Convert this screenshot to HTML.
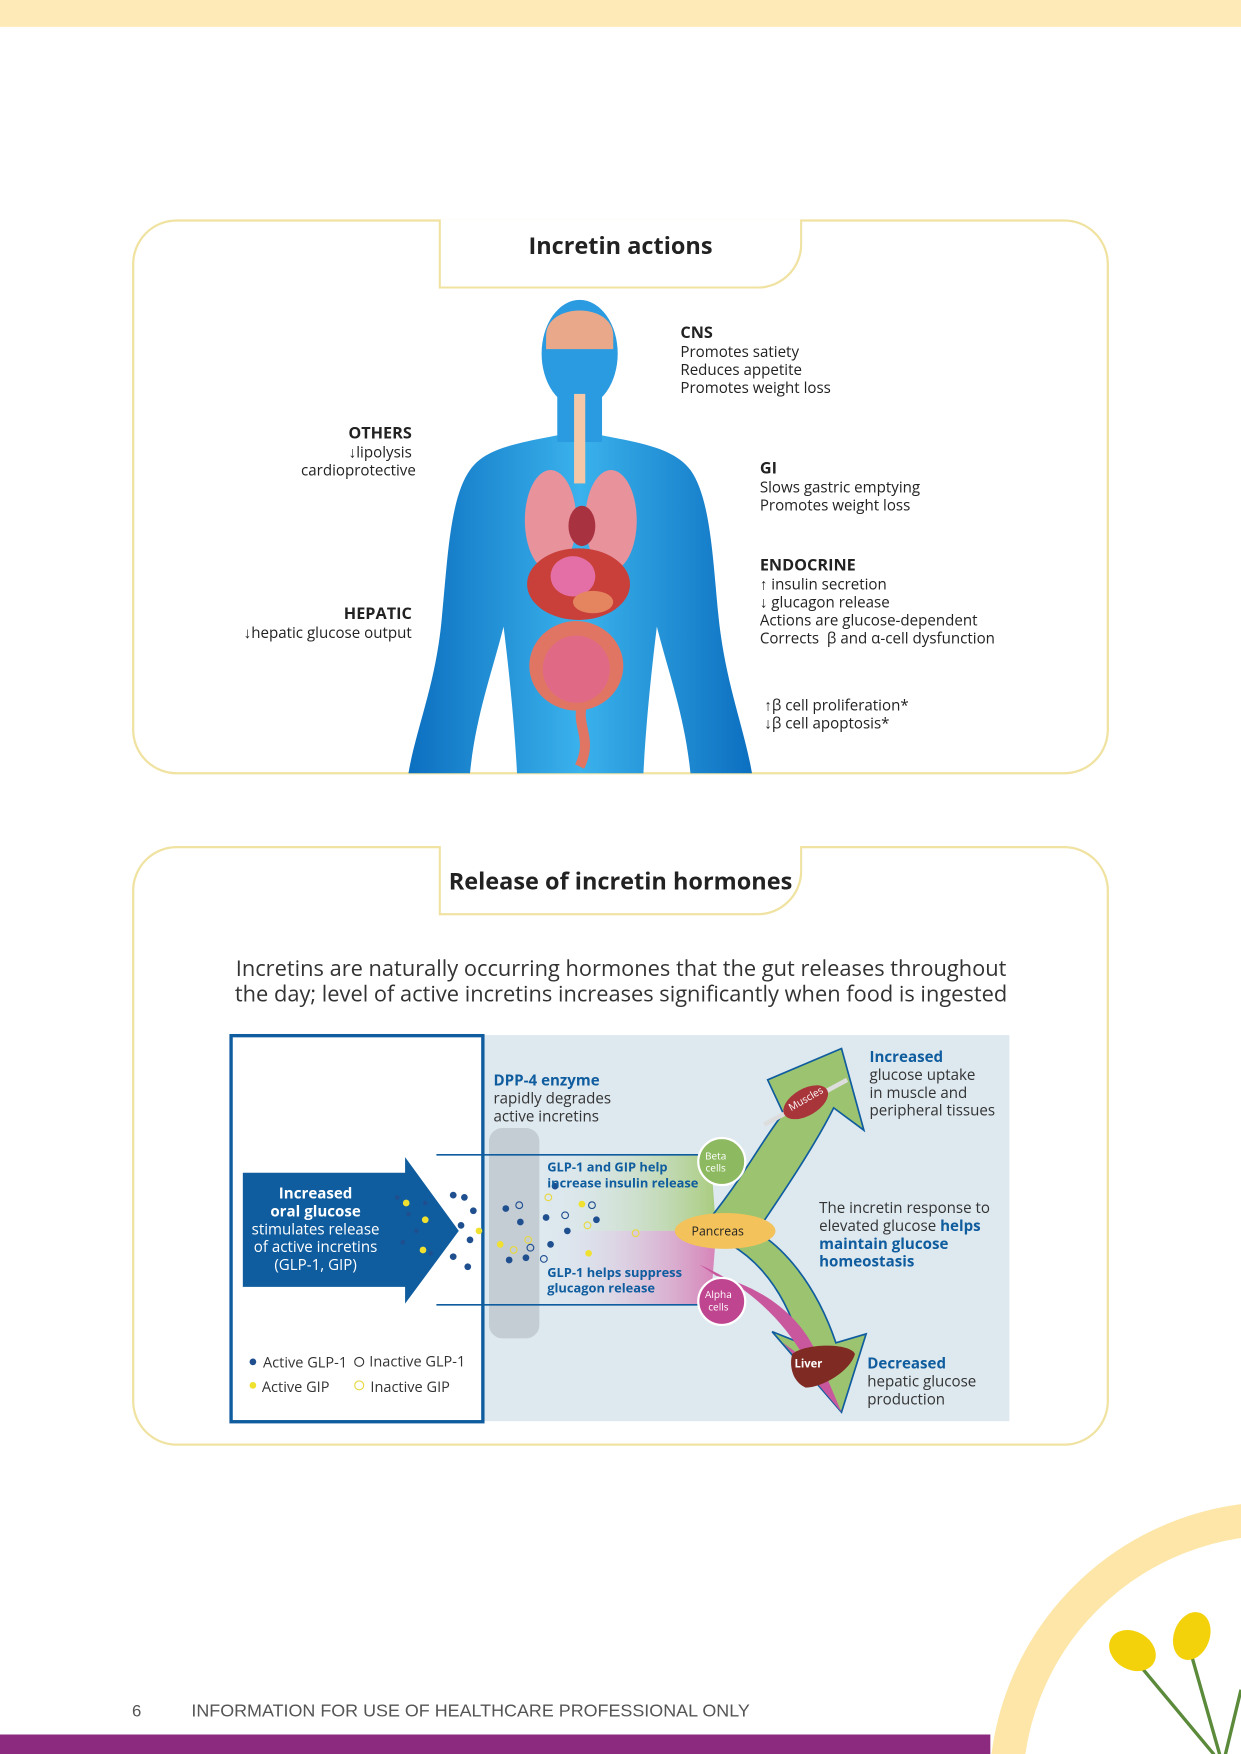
<!DOCTYPE html>
<html><head><meta charset="utf-8"><style>
html,body{margin:0;padding:0;background:#fff;overflow:hidden;width:1241px;height:1754px;}
#wrap{position:relative;width:1241px;height:1754px;overflow:hidden;}
#pg{position:absolute;left:0;top:0;width:1109px;height:1568px;transform:scale(1.11903);transform-origin:0 0;font-family:"Open Sans","Liberation Sans",sans-serif;color:#222;}
.a{position:absolute;white-space:nowrap;}
.box{position:absolute;border:2px solid #f0e2a0;border-radius:40px;box-sizing:border-box;}
.tab{position:absolute;border:2px solid #f0e2a0;border-top:none;border-bottom-right-radius:40px;box-sizing:border-box;background:#fff;text-align:center;font-weight:bold;font-size:21px;color:#222;}
.t{font-size:13.5px;line-height:16px;}
.h{font-weight:bold;font-size:14.5px;}
.bl{color:#0f5c9e;font-weight:bold;}
.d{font-size:13.5px;line-height:16px;color:#333;}
</style></head><body><div id="wrap"><div id="pg">
<div class="a" style="left:0;top:0;width:1109px;height:24px;background:#fdeab6"></div>

<div class="box" style="left:118px;top:196px;width:873px;height:496px"></div>
<div class="tab" style="left:392px;top:196px;width:325px;height:62px;line-height:48px">Incretin actions</div>

<div class="box" style="left:118px;top:756px;width:873px;height:536px"></div>
<div class="tab" style="left:392px;top:756px;width:325px;height:62px;line-height:64px">Release of incretin hormones</div>

<svg class="a" style="left:0;top:0" width="1109" height="1568" viewBox="0 0 1109 1568">
<defs>
<linearGradient id="bg" x1="0" y1="0" x2="1" y2="0"><stop offset="0" stop-color="#0c6fc0"/><stop offset="0.5" stop-color="#3ab2ec"/><stop offset="1" stop-color="#0c6fc0"/></linearGradient>
<linearGradient id="gw" x1="0" y1="0" x2="1" y2="0"><stop offset="0" stop-color="#dde8ef" stop-opacity="0"/><stop offset="1" stop-color="#a9cc7e"/></linearGradient>
<linearGradient id="pw" x1="0" y1="0" x2="1" y2="0"><stop offset="0" stop-color="#dde8ef" stop-opacity="0"/><stop offset="1" stop-color="#d783b8"/></linearGradient>
</defs>
<path d="M518 385 C470 395 435 398 420 420 C402 445 400 500 395 550 C390 610 372 650 365 691 L420 691 C425 640 440 600 450 560 C455 600 460 650 462 691 L575 691 C577 650 582 600 587 560 C597 600 612 640 617 691 L672 691 C665 650 648 610 642 550 C637 500 635 445 617 420 C600 398 566 395 518 385 Z" fill="url(#bg)"/>
<rect x="498" y="340" width="40" height="55" fill="#2a9be0"/>
<ellipse cx="518" cy="316" rx="34" ry="48" fill="#2a9be0"/>
<path d="M488 300 C488 270 548 270 548 300 L548 312 L488 312 Z" fill="#e9a88a"/>
<rect x="513" y="352" width="10" height="80" fill="#f3c7a8"/>
<ellipse cx="492" cy="465" rx="23" ry="45" fill="#e8929c"/>
<ellipse cx="546" cy="465" rx="23" ry="45" fill="#e8929c"/>
<ellipse cx="520" cy="470" rx="12" ry="18" fill="#a83240"/>
<ellipse cx="517" cy="522" rx="46" ry="32" fill="#c9403a"/>
<ellipse cx="512" cy="515" rx="20" ry="18" fill="#e46fa6"/>
<ellipse cx="530" cy="538" rx="18" ry="10" fill="#e48560"/>
<ellipse cx="515" cy="595" rx="42" ry="40" fill="#e07563"/>
<ellipse cx="515" cy="598" rx="30" ry="30" fill="#e06a85"/>
<path d="M520 630 C515 650 530 660 518 685" stroke="#e07563" stroke-width="9" fill="none"/>
<rect x="432" y="925" width="470" height="345" fill="#dde8ef"/>
<path d="M480 1032 L635 1032 L640 1100 L480 1100 Z" fill="url(#gw)"/>
<path d="M480 1100 L640 1100 L635 1166 L480 1166 Z" fill="url(#pw)"/>
<rect x="437" y="1008" width="45" height="188" rx="12" fill="#c4ccd4"/>
<line x1="390" y1="1032" x2="630" y2="1032" stroke="#0f5c9e" stroke-width="1.5"/>
<line x1="390" y1="1166" x2="630" y2="1166" stroke="#0f5c9e" stroke-width="1.5"/>
<path d="M625 1100 C660 1060 680 1020 700 995 L686 965 L752 937 L772 1010 L745 990 C725 1030 690 1080 670 1110 Z" fill="#9cc470" stroke="#0f5c9e" stroke-width="1.5"/>
<path d="M620 1100 C670 1110 700 1150 715 1200 L690 1190 L752 1262 L774 1192 L747 1200 C730 1150 700 1110 665 1095 Z" fill="#9cc470" stroke="#0f5c9e" stroke-width="1.5"/>
<path d="M625 1130 C670 1150 700 1180 720 1215 L700 1200 L752 1262 L730 1210 C715 1175 680 1150 640 1140 Z" fill="#c9579e"/>
<line x1="683" y1="1005" x2="757" y2="965" stroke="#ddd" stroke-width="4"/>
<ellipse cx="720" cy="985" rx="22" ry="12" transform="rotate(-30 720 985)" fill="#a8353a"/>
<path d="M708 1210 C720 1200 760 1200 764 1210 C760 1225 735 1240 720 1240 C708 1235 705 1220 708 1210Z" fill="#7f2a22"/>
<ellipse cx="648" cy="1100" rx="45" ry="16" fill="#f3c25a"/>
<circle cx="645" cy="1038" r="21" fill="#8db960" stroke="#fff" stroke-width="2"/>
<circle cx="645" cy="1163" r="21" fill="#c04590" stroke="#fff" stroke-width="2"/>
<path d="M217 1048 L362 1048 L362 1034 L410 1100 L362 1165 L362 1150 L217 1150 Z" fill="#0f5c9e"/>
<rect x="206.5" y="925.5" width="225" height="345" fill="none" stroke="#0f5c9e" stroke-width="3"/>
<g fill="#1f4f8f">
<circle cx="355" cy="1070" r="2"/><circle cx="365" cy="1085" r="2"/><circle cx="372" cy="1100" r="2"/><circle cx="360" cy="1110" r="2"/><circle cx="380" cy="1075" r="2"/><circle cx="385" cy="1120" r="2"/>
<circle cx="405" cy="1068" r="3"/><circle cx="415" cy="1070" r="3"/><circle cx="423" cy="1082" r="3"/><circle cx="412" cy="1095" r="3"/><circle cx="420" cy="1108" r="3"/><circle cx="405" cy="1123" r="3"/><circle cx="418" cy="1132" r="3"/>
<circle cx="452" cy="1080" r="3"/><circle cx="465" cy="1092" r="3"/><circle cx="488" cy="1088" r="3"/><circle cx="507" cy="1100" r="3"/><circle cx="492" cy="1112" r="3"/><circle cx="470" cy="1124" r="3"/><circle cx="455" cy="1126" r="3"/><circle cx="533" cy="1090" r="3"/><circle cx="496" cy="1060" r="3"/>
</g>
<g fill="#f0e030"><circle cx="363" cy="1075" r="3"/><circle cx="380" cy="1090" r="3"/><circle cx="378" cy="1117" r="3"/><circle cx="428" cy="1100" r="3"/><circle cx="447" cy="1112" r="3"/><circle cx="520" cy="1076" r="3"/><circle cx="526" cy="1120" r="3"/></g>
<g fill="none" stroke="#1f4f8f" stroke-width="1"><circle cx="464" cy="1077" r="3"/><circle cx="505" cy="1086" r="3"/><circle cx="529" cy="1077" r="3"/><circle cx="486" cy="1125" r="3"/><circle cx="474" cy="1115" r="3"/></g>
<g fill="none" stroke="#e8d840" stroke-width="1"><circle cx="490" cy="1070" r="3"/><circle cx="525" cy="1095" r="3"/><circle cx="568" cy="1102" r="3"/><circle cx="459" cy="1117" r="3"/><circle cx="472" cy="1108" r="3"/></g>
<circle cx="226" cy="1217" r="3" fill="#1f4f8f"/><circle cx="321" cy="1217" r="4" fill="none" stroke="#333"/>
<circle cx="226" cy="1238" r="3" fill="#f0e030"/><circle cx="321" cy="1238" r="4" fill="none" stroke="#e8d840"/>
<circle cx="1142" cy="1600" r="243" fill="none" stroke="#fde6a8" stroke-width="30"/>
<path d="M1020 1490 L1085 1568 M1065 1480 L1090 1568 M1109 1510 L1095 1568" stroke="#5a8a3a" stroke-width="3" fill="none"/>
<ellipse cx="1012" cy="1475" rx="22" ry="17" transform="rotate(30 1012 1475)" fill="#f3d20c"/>
<ellipse cx="1065" cy="1462" rx="16" ry="22" transform="rotate(20 1065 1462)" fill="#f3d20c"/>
<rect x="0" y="1550" width="885" height="18" fill="#8b2a7f"/>
</svg>

<div class="a t" style="left:608px;top:289px"><span class="h">CNS</span><br>Promotes satiety<br>Reduces appetite<br>Promotes weight loss</div>
<div class="a t" style="left:269px;top:379px;text-align:right;width:99px"><span class="h">OTHERS</span><br>↓lipolysis<br>cardioprotective</div>
<div class="a t" style="left:679px;top:410px"><span class="h">GI</span><br>Slows gastric emptying<br>Promotes weight loss</div>
<div class="a t" style="left:679px;top:497px"><span class="h">ENDOCRINE</span><br>↑ insulin secretion<br>↓ glucagon release<br>Actions are glucose-dependent<br>Corrects &nbsp;β and α-cell dysfunction</div>
<div class="a t" style="left:200px;top:540px;text-align:right;width:168px"><span class="h">HEPATIC</span><br>↓hepatic glucose output</div>
<div class="a t" style="left:683px;top:622px">↑β cell proliferation*<br>↓β cell apoptosis*</div>

<div class="a" style="left:195px;top:853px;width:720px;text-align:center;font-size:19.5px;line-height:23px;color:#333;white-space:normal">Incretins are naturally occurring hormones that the gut releases throughout the day; level of active incretins increases significantly when food is ingested</div>
<div class="a" style="left:217px;top:1058px;width:130px;text-align:center;color:#fff;font-size:13.5px;line-height:16px"><b>Increased<br>oral glucose</b><br>stimulates release<br>of active incretins<br>(GLP-1, GIP)</div>
<div class="a d" style="left:441px;top:957px"><span class="bl">DPP-4 enzyme</span><br>rapidly degrades<br>active incretins</div>
<div class="a" style="left:489px;top:1037px;font-size:11.5px;line-height:14px"><span class="bl">GLP-1 and GIP help<br>increase insulin release</span></div>
<div class="a" style="left:489px;top:1131px;font-size:11.5px;line-height:14px"><span class="bl">GLP-1 helps suppress<br>glucagon release</span></div>
<div class="a" style="left:618px;top:1093px;font-size:11px">Pancreas</div>
<div class="a" style="left:630px;top:1027px;font-size:9px;color:#fff;text-align:center;line-height:11px">Beta<br>cells</div>
<div class="a" style="left:630px;top:1151px;font-size:9px;color:#fff;text-align:center;line-height:11px">Alpha<br>cells</div>
<div class="a" style="left:703px;top:975px;font-size:9px;color:#fff;transform:rotate(-30deg)">Muscles</div>
<div class="a" style="left:710px;top:1211px;font-size:10px;color:#fff;font-weight:bold">Liver</div>
<div class="a d" style="left:777px;top:936px"><span class="bl">Increased</span><br>glucose uptake<br>in muscle and<br>peripheral tissues</div>
<div class="a d" style="left:732px;top:1071px">The incretin response to<br>elevated glucose <span class="bl">helps<br>maintain glucose<br>homeostasis</span></div>
<div class="a d" style="left:775px;top:1210px"><span class="bl">Decreased</span><br>hepatic glucose<br>production</div>
<div class="a" style="left:235px;top:1208px;font-size:13px;color:#333">Active GLP-1</div>
<div class="a" style="left:330px;top:1207px;font-size:13px;color:#333">Inactive GLP-1</div>
<div class="a" style="left:234px;top:1230px;font-size:13px;color:#333">Active GIP</div>
<div class="a" style="left:331px;top:1230px;font-size:13px;color:#333">Inactive GIP</div>

<div class="a" style="left:118px;top:1521px;font-size:15px;color:#555;font-family:'Liberation Sans',sans-serif">6</div>
<div class="a" style="left:171px;top:1521px;font-size:16px;color:#555;font-family:'Liberation Sans',sans-serif">INFORMATION FOR USE OF HEALTHCARE PROFESSIONAL ONLY</div>
</div></div></body></html>
